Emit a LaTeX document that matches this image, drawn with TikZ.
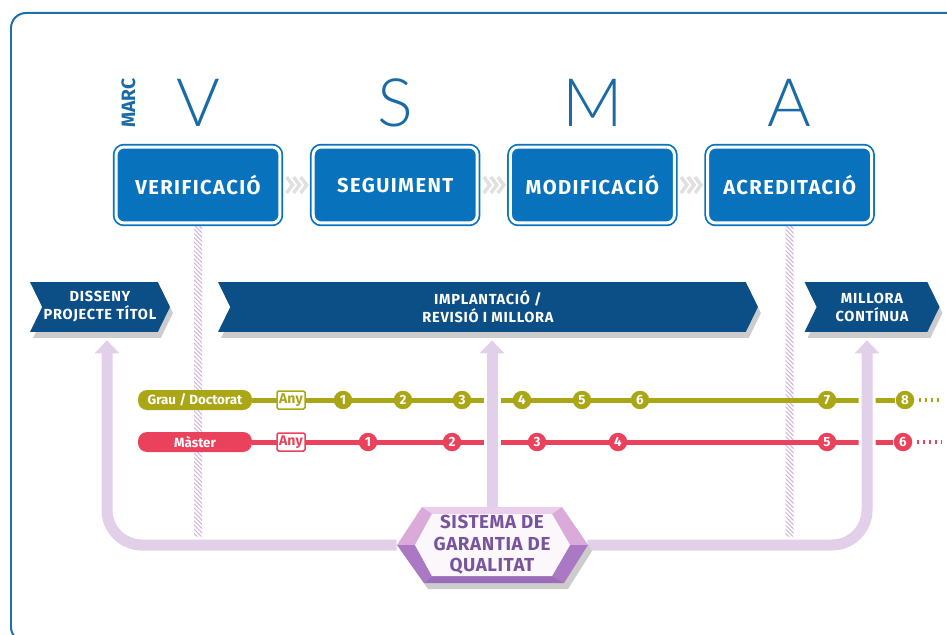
\documentclass[tikz,border=0pt]{standalone}
\usepackage{fontspec}
\setmainfont{Fira Sans}
\IfFontExistsTF{Lato Light}{\newfontfamily\thinfont{Lato Light}}{\newfontfamily\thinfont{Lato}}
\usetikzlibrary{positioning, calc, shapes.symbols, arrows.meta, shadows, patterns.meta}
\pgfdeclarelayer{back}
\pgfdeclarelayer{mid}
\pgfsetlayers{back,mid,main}
\definecolor{framec}{RGB}{31,111,169}
\definecolor{boxc}{RGB}{8,115,188}
\definecolor{letterc}{RGB}{26,106,165}
\definecolor{bannerc}{RGB}{12,78,134}
\definecolor{oliv}{RGB}{170,166,22}
\definecolor{redc}{RGB}{234,66,92}
\definecolor{lilac}{RGB}{226,207,233}
\definecolor{hatchc}{RGB}{210,182,218}
\definecolor{hextop}{RGB}{236,206,236}
\definecolor{hexlight}{RGB}{218,170,218}
\definecolor{hexdark}{RGB}{170,120,196}
\definecolor{hexbot}{RGB}{155,108,186}
\definecolor{hexface}{RGB}{251,247,251}
\definecolor{hextext}{RGB}{120,84,158}
\tikzset{
  stagebox/.style={rectangle, rounded corners=0.16cm, fill=boxc, draw=boxc, double=white, double distance=0.06cm, line width=0.035cm, minimum width=3.28cm, minimum height=1.52cm, text=white, font=\bfseries\fontsize{11.5}{13}\selectfont\addfontfeature{LetterSpace=7}},
  bigletter/.style={text=letterc, inner sep=0, font=\thinfont\fontsize{38}{38}\selectfont},
  marclabel/.style={text=letterc, inner sep=0, font=\bfseries\fontsize{11}{12}\selectfont},
  banner/.style={signal, signal to=east, signal from=west, signal pointer angle=128, fill=bannerc, text=white, align=center, minimum height=1cm, inner sep=0, font=\bfseries\fontsize{8.3}{10.2}\selectfont\addfontfeature{LetterSpace=5}, drop shadow={shadow xshift=0.06cm, shadow yshift=-0.12cm, fill=black!20, opacity=1}},
  badge/.style={rounded corners=0.18cm, minimum width=2.28cm, minimum height=0.4cm, inner sep=0, text=white, font=\bfseries\fontsize{7.6}{8}\selectfont},
  anybox/.style={draw, fill=white, line width=0.03cm, rounded corners=0.03cm, minimum width=0.56cm, minimum height=0.36cm, inner sep=0, font=\bfseries\fontsize{8}{8}\selectfont},
  yearstop/.style={circle, minimum size=0.37cm, inner sep=0, text=white, font=\bfseries\fontsize{7.6}{8}\selectfont},
  tline/.style={line width=0.1cm},
  tdots/.style={line width=0.07cm, dash pattern=on 0.05cm off 0.07cm},
  loopline/.style={draw=lilac, line width=0.22cm, rounded corners=0.7cm, -{Triangle[width=0.48cm, length=0.26cm]}, preaction={draw=white, line width=0.34cm, -}},
  hatched/.style={pattern={Lines[angle=-45, distance=1.7pt, line width=0.6pt]}, pattern color=hatchc},
  chev/.style={draw=black!12, line width=0.07cm},
  hexlabel/.style={minimum width=3.8cm, minimum height=1.52cm, inner sep=0, text=hextext, align=center, font=\bfseries\fontsize{10.7}{12.2}\selectfont\addfontfeature{LetterSpace=3}}
}
\begin{document}
\begin{tikzpicture}[x=0.02cm, y=-0.02cm]
\useasboundingbox (0,0) rectangle (947,635);
\clip (0,0) rectangle (947,635);
\draw[draw=framec, line width=0.04cm, rounded corners=0.3cm] (11,13) rectangle (965,642);

% stages
\node (ver) [stagebox] at (198,185) {VERIFICACIÓ};
\node (seg) [stagebox, right=0.63cm of ver] {SEGUIMENT};
\node (mod) [stagebox, right=0.63cm of seg] {MODIFICACIÓ};
\node (acr) [stagebox, right=0.63cm of mod] {ACREDITACIÓ};
\node (lv) [bigletter, above=0.38cm of ver] {V};
\node (ls) [bigletter, above=0.38cm of seg] {S};
\node (lm) [bigletter, above=0.38cm of mod] {M};
\node (la) [bigletter, above=0.38cm of acr] {A};
\node (marc) [marclabel, rotate=90, anchor=south] at ($(lv.west)+(-40,0)$) {MARC};
\foreach \a/\b in {ver/seg, seg/mod, mod/acr}
  \foreach \d in {-7,0,7}
    \draw[chev] ($(\a.east)!0.5!(\b.west)+(\d-3,-8)$) -- ++(6,8) -- ++(-6,8);

% phases
\node (dis) [banner, minimum width=2.8cm] at (100,307) {DISSENY\\PROJECTE TÍTOL};
\node (imp) [banner, minimum width=10.8cm] at (488,307) {IMPLANTACIÓ /\\REVISIÓ I MILLORA};
\node (mil) [banner, minimum width=2.7cm] at (872,307) {MILLORA\\CONTÍNUA};

% years
\node (grau) [badge, fill=oliv] at (195,400) {Grau / Doctorat};
\node (gany) [anybox, draw=oliv, text=oliv] at (291,400) {Any};
\foreach \n/\x in {1/343,2/403,3/462,4/522,5/582,6/640,7/827,8/905}
  \node (g\n) [yearstop, fill=oliv] at (\x,400) {\n};
\node (mast) [badge, fill=redc] at (195,442) {Màster};
\node (many) [anybox, draw=redc, text=redc] at (291,442) {Any};
\foreach \n/\x in {1/368,2/452,3/537,4/618,5/827,6/903}
  \node (m\n) [yearstop, fill=redc] at (\x,442) {\n};
\coordinate (gend) at (942,400);
\coordinate (mend) at (942,442);

% quality system
\node (sgq) [hexlabel] at (492,545) {SISTEMA DE\\GARANTIA DE\\QUALITAT};

\begin{pgfonlayer}{back}
\fill[hatched] ($(ver.south)+(-4,0)$) rectangle ($(ver.south |- sgq.west)+(4,0)$);
\fill[hatched] ($(acr.south)+(-4,0)$) rectangle ($(acr.south |- sgq.west)+(4,0)$);
\draw[tline, oliv] (grau.east) -- (g8);
\draw[tdots, oliv, shorten <=0.08cm] (g8.east) -- (gend);
\draw[tline, redc] (mast.east) -- (m6);
\draw[tdots, redc, shorten <=0.08cm] (m6.east) -- (mend);
\end{pgfonlayer}

\begin{pgfonlayer}{mid}
\coordinate (disin) at ($(dis.south)+(7,8)$);
\coordinate (impin) at ($(imp.south -| sgq.north)+(0,8)$);
\coordinate (milin) at ($(mil.south)+(-5,8)$);
\draw[loopline] (sgq.west) -| (disin);
\draw[loopline] (sgq.east) -| (milin);
\draw[loopline] (sgq.north) -- (impin);
\begin{scope}[shift={(sgq.center)}]
\fill[black!20] (-91,6) -- (-66,-32) -- (74,-32) -- (100,6) -- (76,44) -- (-64,44) -- cycle;
\fill[hextop] (-70,-38) -- (70,-38) -- (60,-31) -- (-60,-31) -- cycle;
\fill[hexlight] (-95,0) -- (-70,-38) -- (-60,-31) -- (-77,0) -- cycle;
\fill[hexlight] (70,-38) -- (96,0) -- (78,0) -- (60,-31) -- cycle;
\fill[hexdark] (-95,0) -- (-77,0) -- (-60,31) -- (-68,38) -- cycle;
\fill[hexdark] (96,0) -- (72,38) -- (60,31) -- (78,0) -- cycle;
\fill[hexbot] (-68,38) -- (-60,31) -- (60,31) -- (72,38) -- cycle;
\fill[hexface] (-77,0) -- (-60,-31) -- (60,-31) -- (78,0) -- (60,31) -- (-60,31) -- cycle;
\end{scope}
\end{pgfonlayer}
\end{tikzpicture}
\end{document}
